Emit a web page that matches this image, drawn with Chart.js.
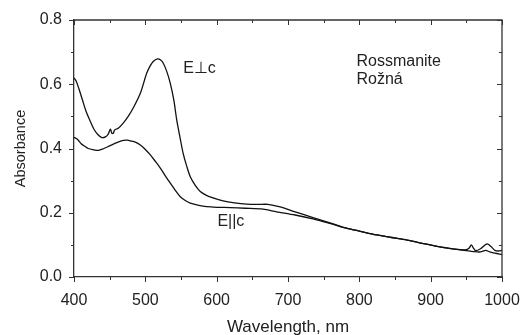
<!DOCTYPE html>
<html>
<head>
<meta charset="utf-8">
<script src="https://cdn.jsdelivr.net/npm/chart.js@4.4.1/dist/chart.umd.min.js"></script>
<style>
html,body{margin:0;padding:0;background:#fff;}
#wrap{width:523px;height:335px;}
</style>
</head>
<body>
<div id="wrap"><canvas id="absChart"></canvas></div>
<script>
// E perpendicular c spectrum
let perpWl = [400,403,407,412,417,422,428,434,439,444,448,451,453,455,457,462,469,476,483,493,502,507,511,517,521,525,530,535,540,544,549,553,558,563,570,577,585,595,609,625,642,658,672,689,710,735,760,782,800,824,845,867,890,913,937,950,954,957,960,963,970,979,985,990,995,1000];
let perpAbs = [0.62,0.61,0.585,0.55,0.515,0.489,0.46,0.442,0.434,0.436,0.445,0.46,0.448,0.447,0.458,0.463,0.479,0.50,0.526,0.572,0.635,0.658,0.671,0.679,0.676,0.666,0.64,0.603,0.55,0.489,0.43,0.385,0.345,0.312,0.285,0.266,0.255,0.246,0.237,0.231,0.227,0.226,0.226,0.218,0.203,0.185,0.168,0.152,0.143,0.131,0.123,0.115,0.104,0.094,0.086,0.085,0.09,0.10,0.09,0.082,0.088,0.103,0.094,0.083,0.081,0.083];

// E parallel c spectrum
let paraWl = [400,405,410,415,420,428,434,442,450,460,469,475,479,486,493,500,507,514,521,528,535,542,549,556,563,575,586,600,619,640,665,684,710,735,760,782,800,824,845,867,890,913,937,950,960,970,977,983,990,1000];
let paraAbs = [0.435,0.428,0.415,0.407,0.40,0.396,0.394,0.40,0.408,0.418,0.425,0.426,0.424,0.42,0.411,0.397,0.38,0.36,0.339,0.315,0.292,0.27,0.25,0.238,0.23,0.223,0.219,0.217,0.216,0.214,0.211,0.203,0.193,0.181,0.166,0.152,0.143,0.131,0.123,0.115,0.104,0.094,0.086,0.082,0.079,0.078,0.083,0.078,0.074,0.07];

// axis ticks
let xTicks = [400,500,600,700,800,900,1000];
let yTicks = [0.0,0.2,0.4,0.6,0.8];

// text labels [text, wavelength, absorbance]
let notes = [
  ["E\u22A5c", 553, 0.648],
  ["E||c", 601, 0.172],
  ["Rossmanite", 796, 0.672],
  ["Ro\u017En\u00E1", 796, 0.613]
];

const ink = "#222";
const fontFam = "Arial, 'Liberation Sans', sans-serif";

function toPts(xs, ys){
  return xs.map((x,i)=>({x:x, y:ys[i]}));
}

// frame, mirrored ticks and text labels
const framePlugin = {
  id: "frame",
  afterDraw(chart){
    const ctx = chart.ctx;
    const a = chart.chartArea;
    const xs = chart.scales.x, ys = chart.scales.y;
    ctx.save();
    ctx.strokeStyle = "#333";
    ctx.lineWidth = 1.3;
    ctx.beginPath();
    ctx.moveTo(a.left, a.top); ctx.lineTo(a.right, a.top); ctx.lineTo(a.right, a.bottom);
    ctx.stroke();
    ctx.lineWidth = 1;
    ctx.beginPath();
    for(let v=400; v<=1000; v+=50){
      const px = Math.round(xs.getPixelForValue(v))+0.5;
      const len = (v%100===0) ? 5 : 3;
      ctx.moveTo(px, a.bottom); ctx.lineTo(px, a.bottom+len);
      ctx.moveTo(px, a.top); ctx.lineTo(px, a.top+len);
    }
    for(let k=0; k<=8; k++){
      const py = Math.round(ys.getPixelForValue(k/10))+0.5;
      const len = (k%2===0) ? 5 : 3;
      ctx.moveTo(a.left, py); ctx.lineTo(a.left-len, py);
      ctx.moveTo(a.right, py); ctx.lineTo(a.right-len, py);
    }
    ctx.stroke();
    ctx.fillStyle = ink;
    ctx.font = "16px " + fontFam;
    ctx.textBaseline = "middle";
    ctx.textAlign = "left";
    notes.forEach(n=>{
      ctx.fillText(n[0], xs.getPixelForValue(n[1]), ys.getPixelForValue(n[2]));
    });
    ctx.restore();
  }
};

new Chart(document.getElementById("absChart"), {
  type: "line",
  data: {
    datasets: [
      {label:"E perp c", data: toPts(perpWl, perpAbs), borderColor:"#111", borderWidth:1.3, pointRadius:0, tension:0.3, fill:false},
      {label:"E par c", data: toPts(paraWl, paraAbs), borderColor:"#111", borderWidth:1.3, pointRadius:0, tension:0.3, fill:false}
    ]
  },
  options: {
    responsive: true,
    maintainAspectRatio: false,
    animation: false,
    layout: {padding: {top: 20, right: 21, left: 0, bottom: 0}},
    plugins: {legend: {display:false}, tooltip: {enabled:false}},
    scales: {
      x: {
        type: "linear", min: 400, max: 1000,
        afterBuildTicks: s => { s.ticks = xTicks.map(v=>({value:v})); },
        afterFit: s => { s.height = 58; s.paddingLeft = 0; s.paddingRight = 0; },
        grid: {display:false, drawTicks:false},
        border: {display:true, color:"#333", width:1.3},
        ticks: {color: ink, padding: 14, font: {size: 16, family: fontFam}, maxRotation: 0, callback: v => String(v)},
        title: {display:true, text:"Wavelength, nm", color: ink, font:{size:17, family: fontFam}, padding:{top:0, bottom:-3}}
      },
      y: {
        min: 0, max: 0.8,
        afterBuildTicks: s => { s.ticks = yTicks.map(v=>({value:v})); },
        afterFit: s => { s.width = 74; s.paddingTop = 0; s.paddingBottom = 0; },
        grid: {display:false, drawTicks:false},
        border: {display:true, color:"#333", width:1.3},
        ticks: {color: ink, padding: 12, font: {size: 16, family: fontFam}, callback: v => Number(v).toFixed(1)},
        title: {display:true, text:"Absorbance", color: ink, font:{size:14.5, family: fontFam}, padding:{top:12, bottom:0}}
      }
    }
  },
  plugins: [framePlugin]
});
</script>
</body>
</html>
